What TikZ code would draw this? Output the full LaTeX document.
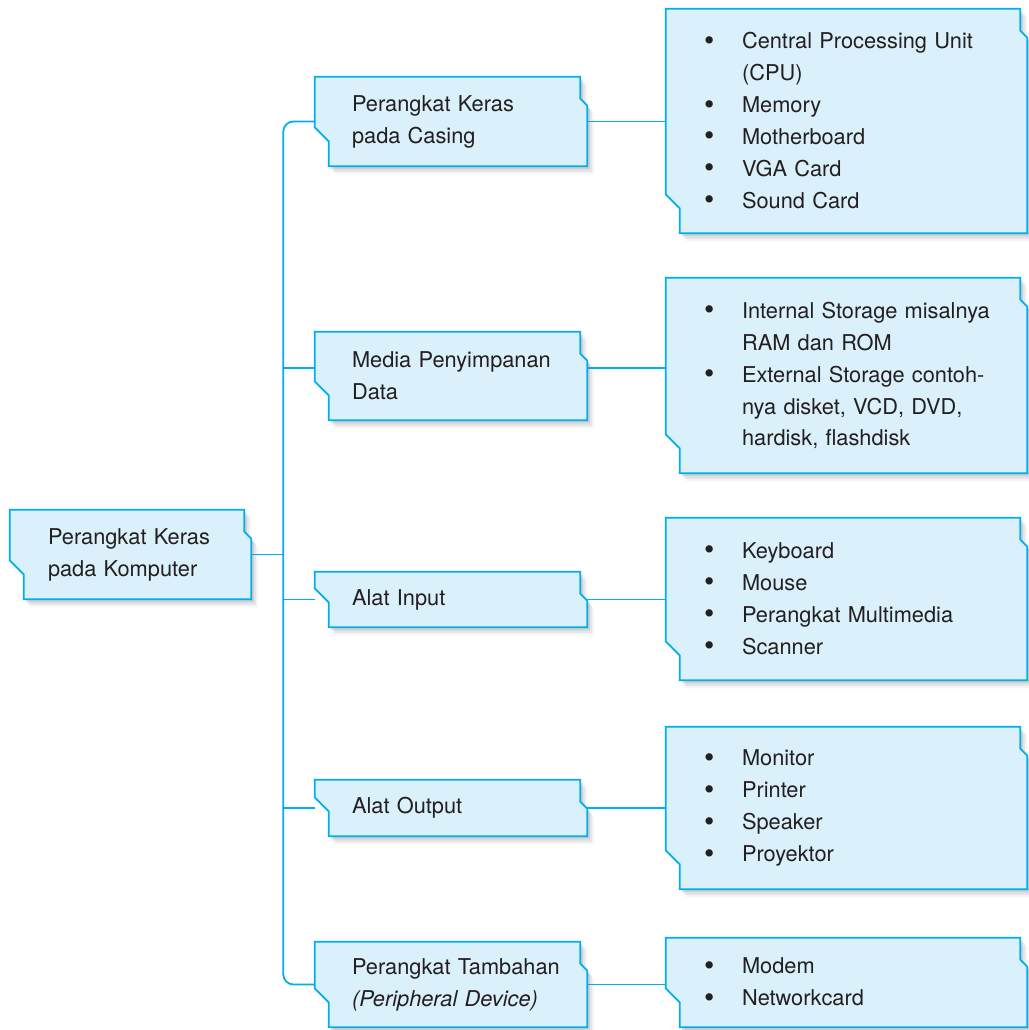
\documentclass[tikz,border=0pt]{standalone}
\usepackage{fontspec}
\setmainfont{TeX Gyre Heros}
\usetikzlibrary{calc,shadows,backgrounds}

\definecolor{boxline}{RGB}{0,174,239}
\definecolor{boxfill}{RGB}{218,240,250}
\definecolor{ink}{RGB}{35,31,32}

\newcommand{\itm}[1]{\hangindent=0.76cm\hangafter=1\noindent\makebox[0.76cm][l]{\raisebox{-0.15ex}{\scalebox{1.35}{\textbullet}}}#1\par}

\begin{document}
\begin{tikzpicture}[x=0.02cm,y=-0.02cm,line join=round,
  every node/.style={font=\fontsize{12.4}{18.2}\selectfont,text=ink,align=left,inner ysep=0pt,inner xsep=0.1cm},
  lead/.style={execute at begin node={\leftskip=#1}},
  topic/.style={text width=5.24cm,lead=0.64cm},
  items/.style={text width=7.02cm,lead=0.66cm},
  tab/.style={draw=boxline,line width=1pt,fill=boxfill,
    drop shadow={shadow xshift=0.13cm,shadow yshift=-0.16cm,opacity=0.08},
    drop shadow={shadow xshift=0.09cm,shadow yshift=-0.11cm,opacity=0.14},
    drop shadow={shadow xshift=0.05cm,shadow yshift=-0.06cm,opacity=0.22}},
  link/.style={boxline,line width=1pt}]
  \useasboundingbox (0,0) rectangle (1028,1030);

  \node[text width=4.62cm,lead=0.66cm,minimum height=1.78cm] (root) at (130.5,554.5) {Perangkat Keras\\pada Komputer};
  \coordinate (trunk) at ($(root.east)+(32,0)$);

  \node[topic,minimum height=1.78cm] (casing) at (451,121.5) {Perangkat Keras\\pada Casing};
  \node[topic,minimum height=1.76cm] (media) at (451,376) {Media Penyimpanan\\Data};
  \node[topic,minimum height=1.1cm] (input) at (451,599.5) {Alat Input};
  \node[topic,minimum height=1.12cm] (output) at (451,808) {Alat Output};
  \node[topic,minimum height=1.7cm] (extra) at (451,984.5) {Perangkat Tambahan\\\textit{(Peripheral Device)}};

  \node[items,minimum height=4.48cm] (casinglist) at (846.5,121) {\itm{Central Processing Unit\newline(CPU)}\itm{Memory}\itm{Motherboard}\itm{VGA Card}\itm{Sound Card}};
  \node[items,minimum height=3.9cm] (medialist) at (846.5,375.5) {\itm{Internal Storage misalnya\newline RAM dan ROM}\itm{External Storage contoh-\newline nya disket, VCD, DVD,\newline hardisk, flashdisk}};
  \node[items,minimum height=3.24cm] (inputlist) at (846.5,599) {\itm{Keyboard}\itm{Mouse}\itm{Perangkat Multimedia}\itm{Scanner}};
  \node[items,minimum height=3.24cm] (outputlist) at (846.5,808) {\itm{Monitor}\itm{Printer}\itm{Speaker}\itm{Proyektor}};
  \node[items,minimum height=1.78cm] (extralist) at (846.5,982.5) {\itm{Modem}\itm{Networkcard}};

  \begin{scope}[on background layer]
    % connectors first, boxes cover their ends
    \draw[link,rounded corners=0.2cm] (casing.west) -| (trunk) |- (extra.west);
    \draw[link] (root.east) -- (trunk);
    \draw[link] ([yshift=0.16cm]media.west) -- ([yshift=0.16cm]media.west -| trunk);
    \foreach \n in {input,output}
      \draw[link] (\n.west) -- (\n.west -| trunk);
    \draw[link] ([yshift=0.16cm]media.east) -- ([yshift=0.16cm]media.east -| medialist.west);
    \foreach \a/\b in {casing/casinglist,input/inputlist,output/outputlist,extra/extralist}
      \draw[link] (\a.east) -- (\a.east -| \b.west);

    % notched boxes
    \foreach \n in {root,casing,media,input,output,extra,casinglist,medialist,inputlist,outputlist,extralist}
      \path[tab] (\n.north west) -- ([xshift=-0.14cm]\n.north east)
        -- ([xshift=-0.14cm,yshift=-0.44cm]\n.north east) -- ([yshift=-0.58cm]\n.north east)
        -- (\n.south east) -- ([xshift=0.28cm]\n.south west)
        -- ([xshift=0.28cm,yshift=0.5cm]\n.south west) -- ([yshift=0.78cm]\n.south west) -- cycle;
  \end{scope}
\end{tikzpicture}
\end{document}
